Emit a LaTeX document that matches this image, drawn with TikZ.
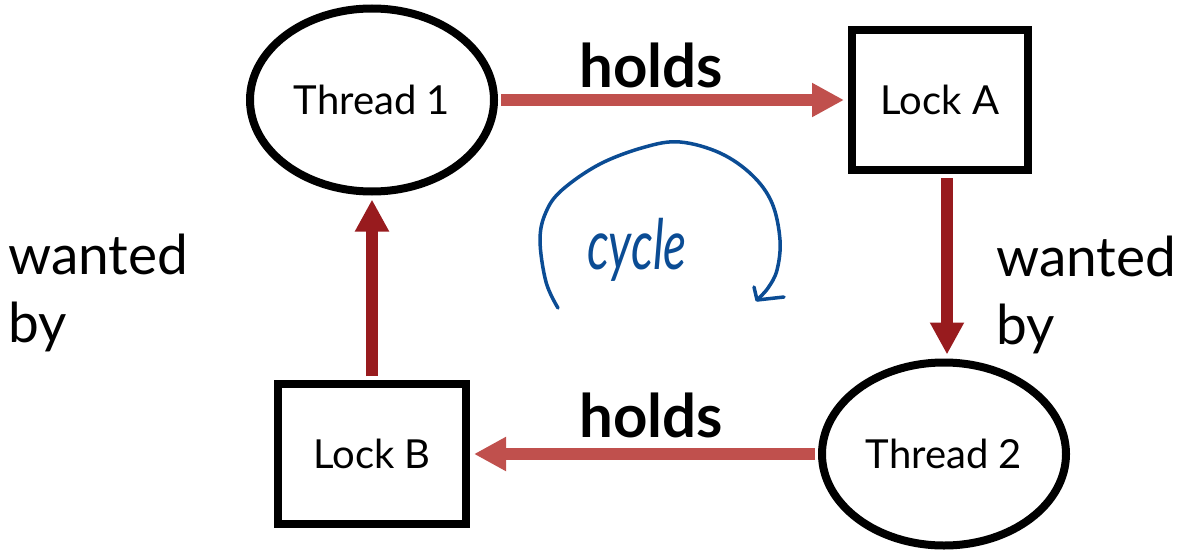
\documentclass[tikz,border=0pt]{standalone}
\usepackage{fontspec}
\setmainfont{Lato}
\usetikzlibrary{arrows.meta,shapes.geometric}
\definecolor{holdred}{HTML}{C0504D}
\definecolor{wantred}{HTML}{981B1E}
\definecolor{inkblue}{HTML}{0B4C94}
\begin{document}
\begin{tikzpicture}[x=1pt,y=-1pt,
  threadnode/.style={ellipse, draw, line width=8pt, minimum width=244pt,
    minimum height=183pt, inner sep=0pt, font=\fontsize{40}{48}\selectfont},
  locknode/.style={rectangle, draw, line width=8pt, inner sep=0pt,
    minimum height=140pt, font=\fontsize{40}{48}\selectfont},
  holdsarrow/.style={draw=holdred, line width=12pt,
    -{Triangle[length=32pt,width=32pt]}, shorten <=3pt, shorten >=4pt},
  wantarrow/.style={draw=wantred, line width=12pt,
    -{Triangle[length=32pt,width=32pt]}, shorten <=4pt, shorten >=4pt},
  edgelabel/.style={font=\fontsize{60}{72}\selectfont\bfseries},
  sidelabel/.style={font=\fontsize{55}{68}\selectfont, align=left,
    inner sep=0pt, anchor=north west},
  inkline/.style={draw=inkblue, line width=3.5pt, line cap=round, line join=round}]

\useasboundingbox (0,0) rectangle (1180,551);

% resources and threads
\node[threadnode] (t1) at (372,100) {Thread 1};
\node[locknode, minimum width=176pt] (la) at (940,100) {Lock A};
\node[threadnode] (t2) at (944,454) {Thread 2};
\node[locknode, minimum width=188pt] (lb) at (372,454) {Lock B};

% holds / wanted-by edges
\draw[holdsarrow] (t1.east) -- (la.west);
\draw[holdsarrow] (t2.west) -- (lb.east);
\draw[wantarrow] ([xshift=7pt]la.south) -- ([xshift=7pt]la.south |- t2.north);
\draw[wantarrow] (lb.north) -- (t1.south);

% edge labels
\node[edgelabel, anchor=base] (h1) at (651,88) {holds};
\node[edgelabel, anchor=base] (h2) at (651,437) {holds};
\node[sidelabel] (w1) at (8,234) {wanted\\by};
\node[sidelabel] (w2) at (996,236) {wanted\\by};

% hand-drawn cycle annotation
\draw[inkline] plot[smooth, tension=0.6] coordinates {
  (558,308) (546,282) (540,240) (546,212) (562,190) (600,164) (645,147)
  (680,142) (720,153) (752,175) (772,203) (780,240) (777,270) (768,288) (757,300)};
\draw[inkline] (754,287) -- (757,300) -- (784,297);
\node[text=inkblue, inner sep=0pt, font=\fontsize{48}{52}\selectfont\rmfamily\itshape]
  (cy) at (637,250) {\scalebox{1}[1.45]{cycle}};
\end{tikzpicture}
\end{document}
